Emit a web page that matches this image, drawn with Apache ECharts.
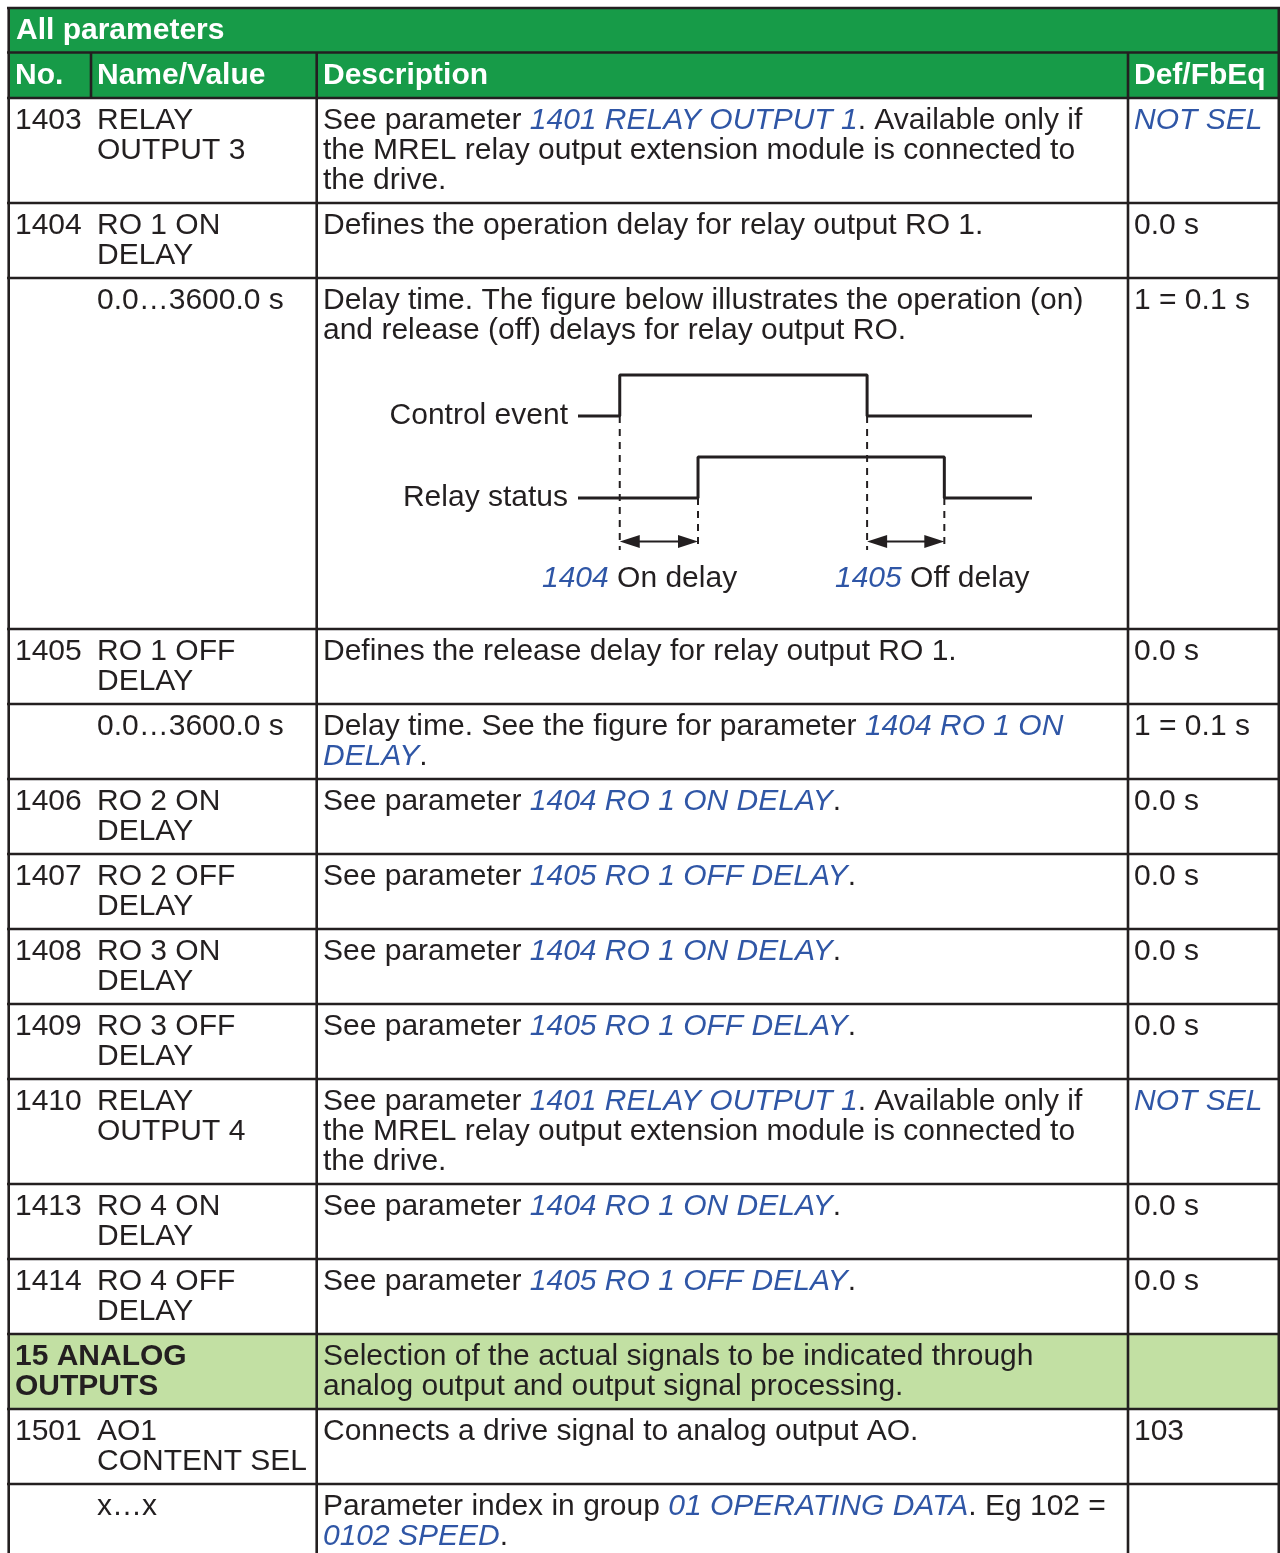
<!DOCTYPE html>
<html><head><meta charset="utf-8">
<script src="https://cdn.jsdelivr.net/npm/echarts@6/dist/echarts.min.js"></script>
<style>html,body{margin:0;padding:0;background:#fff}#c{width:1280px;height:1553px}</style>
</head><body><div id="c"></div><script>
// ---------- table content ----------
const tableTitle = 'All parameters';
const colHeaders = ['No.', 'Name/Value', 'Description', 'Def/FbEq'];
const rowKinds = ['param','param','value','param','value','param','param','param','param','param','param','param','group','param','value'];
const rowNos = ['1403','1404','','1405','','1406','1407','1408','1409','1410','1413','1414','15 ANALOG\nOUTPUTS','1501',''];
const rowNames = ['RELAY\nOUTPUT 3','RO 1 ON\nDELAY','0.0…3600.0 s','RO 1 OFF\nDELAY','0.0…3600.0 s','RO 2 ON\nDELAY','RO 2 OFF\nDELAY','RO 3 ON\nDELAY','RO 3 OFF\nDELAY','RELAY\nOUTPUT 4','RO 4 ON\nDELAY','RO 4 OFF\nDELAY','','AO1\nCONTENT SEL','x…x'];
const rowDescs = [
  'See parameter {l|1401 RELAY OUTPUT 1}. Available only if\nthe MREL relay output extension module is connected to\nthe drive.',
  'Defines the operation delay for relay output RO 1.',
  'Delay time. The figure below illustrates the operation (on)\nand release (off) delays for relay output RO.',
  'Defines the release delay for relay output RO 1.',
  'Delay time. See the figure for parameter {l|1404 RO 1 ON}\n{l|DELAY}.',
  'See parameter {l|1404 RO 1 ON DELAY}.',
  'See parameter {l|1405 RO 1 OFF DELAY}.',
  'See parameter {l|1404 RO 1 ON DELAY}.',
  'See parameter {l|1405 RO 1 OFF DELAY}.',
  'See parameter {l|1401 RELAY OUTPUT 1}. Available only if\nthe MREL relay output extension module is connected to\nthe drive.',
  'See parameter {l|1404 RO 1 ON DELAY}.',
  'See parameter {l|1405 RO 1 OFF DELAY}.',
  'Selection of the actual signals to be indicated through\nanalog output and output signal processing.',
  'Connects a drive signal to analog output AO.',
  'Parameter index in group {l|01 OPERATING DATA}. Eg 102 =\n{l|0102 SPEED}.'
];
const rowDefs = ['{l|NOT SEL}','0.0 s','1 = 0.1 s','0.0 s','1 = 0.1 s','0.0 s','0.0 s','0.0 s','0.0 s','{l|NOT SEL}','0.0 s','0.0 s','','103',''];
const figureRow = 2;

// ---------- timing diagram content ----------
const signalNames = ['Control event', 'Relay status'];
const controlEvent = [[0, 3], [4, 4], [27.7, 3], [43.5, 3]];
const relayStatus = [[0, 1], [11.5, 2], [35.1, 1], [43.5, 1]];
const dashMarks = [[4, 3], [11.5, 1], [27.7, 3], [35.1, 1]];
const dashBottom = -0.27;
const delayArrows = [[4, 11.5], [27.7, 35.1]];
const arrowLevel = -0.06;
const delayLabels = ['{l|1404} On delay', '{l|1405} Off delay'];

// ---------- layout / style ----------
const FONT = 'Liberation Sans';
const INK = '#231f20';
const BLUE = '#2f56a6';
const GREEN = '#179b48';
const LIGHT = '#c2e0a3';
const LW = 2.6;
const X = { left: 8.7, nameDiv: 91, desc: 316.7, def: 1128, right: 1278.8 };
const TX = { no: 15, name: 97, desc: 323, def: 1134 };
const top0 = 8, titleBottom = 52.5, headBottom = 98;
const LINE = 30, PAD = 15, FIG_EXTRA = 276;

const RICH = {
  l: { fill: BLUE, fontStyle: 'italic', fontSize: 30, fontFamily: FONT, lineHeight: 30 }
};
function txt(x, y, text, o) {
  o = o || {};
  return {
    type: 'text', x: x, y: y, silent: true, z: 5,
    style: {
      text: text, fontSize: 30, fontFamily: FONT,
      fontWeight: o.bold ? 'bold' : 'normal',
      fill: o.color || INK, lineHeight: LINE,
      align: o.align || 'left', verticalAlign: o.va || 'top', rich: RICH
    }
  };
}
function hline(y, x1, x2) {
  return { type: 'line', silent: true, z: 3, shape: { x1: x1 == null ? 7 : x1, y1: y, x2: x2 == null ? 1280 : x2, y2: y }, style: { stroke: INK, lineWidth: LW } };
}
function vline(x, y1, y2) {
  return { type: 'line', silent: true, z: 3, shape: { x1: x, y1: y1, x2: x, y2: y2 }, style: { stroke: INK, lineWidth: LW } };
}
function rect(x, y, w, h, fill) {
  return { type: 'rect', silent: true, z: 1, shape: { x: x, y: y, width: w, height: h }, style: { fill: fill } };
}

const nLines = s => s ? s.split('\n').length : 0;
const rowTops = [];
const rowHeights = [];
let yy = headBottom;
rowKinds.forEach((k, i) => {
  const lines = Math.max(2, nLines(rowNos[i]), nLines(rowNames[i]), nLines(rowDescs[i]));
  const h = PAD + LINE * lines + (i === figureRow ? FIG_EXTRA : 0);
  rowTops.push(yy); rowHeights.push(h); yy += h;
});
const tableBottom = yy;

const els = [];
// backgrounds
els.push(rect(X.left, top0, X.right - X.left, headBottom - top0, GREEN));
rowKinds.forEach((k, i) => {
  if (k === 'group') els.push(rect(X.left, rowTops[i], X.right - X.left, rowHeights[i], LIGHT));
});
// borders
els.push(hline(top0));
els.push(hline(titleBottom));
els.push(hline(headBottom));
rowTops.forEach((t, i) => { if (i > 0) els.push(hline(t)); });
els.push(hline(tableBottom));
els.push(vline(X.left, top0 - 1, 1560));
els.push(vline(X.right, top0 - 1, 1560));
els.push(vline(X.desc, titleBottom, 1560));
els.push(vline(X.def, titleBottom, 1560));
els.push(vline(X.nameDiv, titleBottom, headBottom));
// title & header
els.push(txt(TX.no + 1, top0 + 8, tableTitle, { bold: true, color: '#fff' }));
[TX.no, TX.name, TX.desc, TX.def].forEach((x, j) => {
  els.push(txt(x, titleBottom + 8, colHeaders[j], { bold: true, color: '#fff' }));
});
// rows
rowKinds.forEach((k, i) => {
  const ty = rowTops[i] + 8;
  if (rowNos[i]) els.push(txt(TX.no, ty, rowNos[i], { bold: k === 'group' }));
  if (rowNames[i]) els.push(txt(TX.name, ty, rowNames[i]));
  if (rowDescs[i]) els.push(txt(TX.desc, ty, rowDescs[i]));
  if (rowDefs[i]) els.push(txt(TX.def, ty, rowDefs[i]));
});

// figure grid placement (relative to figure row)
const figTop = rowTops[figureRow];
const gridTop = figTop + 97;
const gridLeft = 578;
const yMin = -0.3, yMax = 4, pxPerLevel = 41;
const gridHeight = (yMax - yMin) * pxPerLevel;

// delay labels under the arrows
els.push(txt(gridLeft - 36, gridTop + 204, delayLabels[0], { va: 'middle' }));
els.push(txt(gridLeft + 257, gridTop + 204, delayLabels[1], { va: 'middle' }));

const sigLine = { color: INK, width: 3 };
const ARROW_LEN = 20, ARROW_HALF = 6.5;
const series = [
  {
    type: 'line', name: signalNames[0], step: 'end', data: controlEvent,
    symbol: 'none', lineStyle: sigLine, clip: false, silent: true, z: 4
  },
  {
    type: 'line', name: signalNames[1], step: 'end', data: relayStatus,
    symbol: 'none', lineStyle: sigLine, clip: false, silent: true, z: 4
  },
  {
    type: 'custom', silent: true, clip: false, z: 4,
    data: delayArrows.map(a => [a[0], a[1], arrowLevel]),
    renderItem: function (params, api) {
      const p1 = api.coord([api.value(0), api.value(2)]);
      const p2 = api.coord([api.value(1), api.value(2)]);
      const y = p1[1];
      return {
        type: 'group',
        children: [
          { type: 'line', shape: { x1: p1[0] + ARROW_LEN - 2, y1: y, x2: p2[0] - ARROW_LEN + 2, y2: y }, style: { stroke: INK, lineWidth: 2 } },
          { type: 'polygon', shape: { points: [[p1[0], y], [p1[0] + ARROW_LEN, y - ARROW_HALF], [p1[0] + ARROW_LEN, y + ARROW_HALF]] }, style: { fill: INK } },
          { type: 'polygon', shape: { points: [[p2[0], y], [p2[0] - ARROW_LEN, y - ARROW_HALF], [p2[0] - ARROW_LEN, y + ARROW_HALF]] }, style: { fill: INK } }
        ]
      };
    }
  },
  {
    type: 'scatter', data: signalNames.map((n, i) => ({ name: n, value: i === 0 ? controlEvent[0] : relayStatus[0] })),
    symbolSize: 0, itemStyle: { color: INK, opacity: 1 }, silent: true, z: 5,
    label: { show: true, position: 'left', distance: 10, formatter: p => p.name, fontSize: 30, fontFamily: FONT, color: INK, opacity: 1 }
  }
].concat(dashMarks.map(d => ({
  type: 'line', data: [d, [d[0], dashBottom]], symbol: 'none', silent: true, clip: false, z: 3,
  lineStyle: { color: INK, width: 2, type: [7, 6] }
})));

const chart = echarts.init(document.getElementById('c'), null, { renderer: 'canvas' });
chart.setOption({
  animation: false,
  backgroundColor: '#fff',
  textStyle: { fontFamily: FONT },
  grid: { left: gridLeft, top: gridTop, width: 454, height: gridHeight, containLabel: false },
  xAxis: { type: 'value', min: 0, max: 43.5, show: false },
  yAxis: { type: 'value', min: yMin, max: yMax, show: false },
  graphic: { elements: els },
  series: series
});
</script></body></html>
